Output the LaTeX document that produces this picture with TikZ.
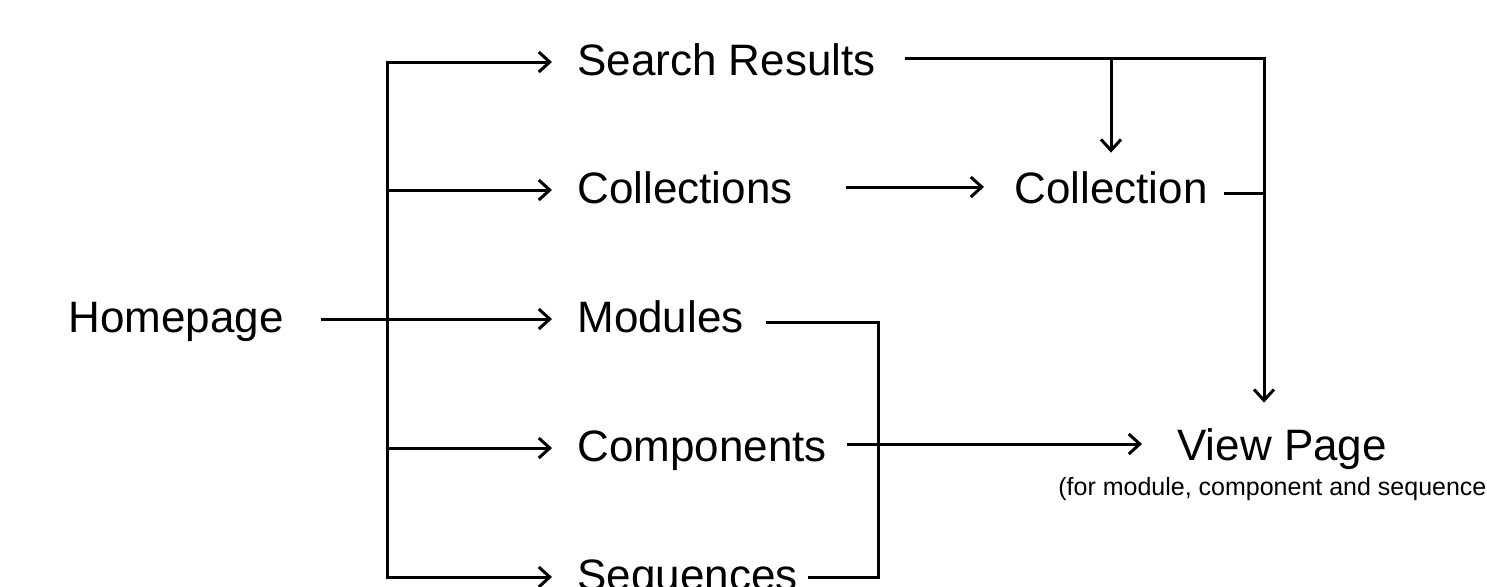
\documentclass[tikz,border=0pt]{standalone}
\usepackage{fontspec}
\setmainfont{Liberation Sans}
\usetikzlibrary{arrows.meta}
\begin{document}
\begin{tikzpicture}[x=0.5pt,y=-0.5pt,
  lbl/.style={font=\fontsize{22}{26}\selectfont, inner sep=0pt, anchor=base west,
              text height=13pt, text depth=0pt},
  note/.style={font=\fontsize{12.5}{15}\selectfont, inner sep=0pt, anchor=base west},
  wire/.style={line width=1.5pt, line join=miter},
  barb/.tip={Straight Barb[length=5.5pt,width=10pt]},
  arr/.style={wire, -barb}]
\useasboundingbox (0,0) rectangle (1487,586);
\clip (0,0) rectangle (1487,586);
\fill[white] (0,0) rectangle (1487,586);

% pages
\node[lbl] (home)  at (68,332)   {Homepage};
\node[lbl] (sr)    at (577,75)   {Search Results};
\node[lbl] (cols)  at (577,203)  {Collections};
\node[lbl] (mods)  at (577,332)  {Modules};
\node[lbl] (comps) at (577,461)  {Components};
\node[lbl] (seqs)  at (577,590)  {Sequences};
\node[lbl] (col)   at (1014,203) {Collection};
\node[lbl] (view)  at (1177,460) {View Page};
\node[note] (viewnote) at (1058,495) {(for module, component and sequence};

% routing lines
\coordinate (trunk) at (387,0);
\coordinate (rail)  at (1264,58);
\coordinate (brk)   at (878,0);

% homepage fan-out
\draw[wire, barb-barb] ([xshift=-12.5pt]sr.west) -- (trunk |- sr.west)
      -- (trunk |- seqs.west) -- ([xshift=-12.5pt]seqs.west);
\draw[arr] ([xshift=18.5pt]home.east) -- ([xshift=-12.5pt]mods.west);
\draw[arr] (trunk |- cols.west) -- ([xshift=-12.5pt]cols.west);
\draw[arr] (trunk |- comps.west) -- ([xshift=-12.5pt]comps.west);

% search results
\draw[arr, shorten >=15.5pt] ([xshift=14.5pt,yshift=2pt]sr.east) -- (rail) -- (rail |- view.north);
\draw[arr, shorten >=12pt] (col.north |- rail) -- (col.north);

% collections
\draw[arr, shorten >=15pt] ([xshift=26.5pt,yshift=1.5pt]cols.east) coordinate (ca) -- (ca -| col.west);
\draw[wire] ([xshift=8pt,yshift=-1.5pt]col.east) coordinate (ce) -- (ce -| rail);

% modules, components, sequences
\draw[wire] ([xshift=11pt,yshift=-1.5pt]mods.east) coordinate (ma) -- (ma -| brk)
      -- (brk |- seqs.east) -- ([xshift=5pt]seqs.east);
\draw[arr, shorten >=17.5pt] ([xshift=10pt,yshift=2pt]comps.east) coordinate (pa) -- (pa -| view.west);
\end{tikzpicture}
\end{document}
